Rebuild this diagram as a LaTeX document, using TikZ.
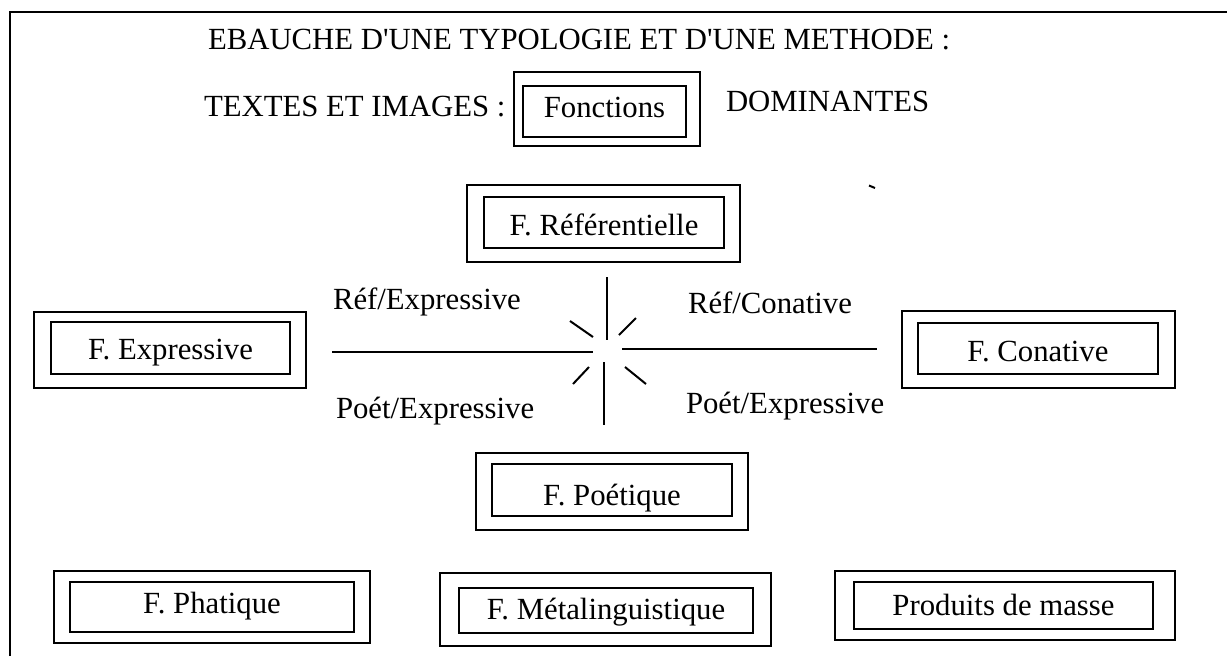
\documentclass[tikz,border=0pt]{standalone}
\usepackage{fontspec}
\setmainfont{Liberation Serif}
\begin{document}
\begin{tikzpicture}
      [x=0.4pt,y=-0.4pt,line width=0.8pt,
       every node/.style={font=\fontsize{12.3}{14}\selectfont,inner sep=0pt},
       fct/.style n args={3}{draw,minimum width=#1*0.4pt,minimum height=#2*0.4pt,
         text height=#3*0.8pt,text depth=0pt},
       lbl/.style={anchor=base west}]
      \useasboundingbox (0,0) rectangle (1227,656);
      \draw (9.5,656) -- (9.5,11.5) -- (1227,11.5);

      \node [lbl] (titre) at (207,49.5)
        {EBAUCHE D\textquotesingle UNE TYPOLOGIE ET D\textquotesingle UNE METHODE :};
      \node [lbl] (textes) at (203,116.5) {TEXTES ET IMAGES :};
      \node [lbl] (domin) at (725,111.5) {DOMINANTES};

      \node [fct={163}{51}{5.5}] (fonct) at (604.5,111.5) {Fonctions};
      \node [fct={240}{51}{12.5}] (ref) at (604,222.5) {F. Référentielle};
      \node [fct={239}{52}{11}] (expr) at (170.5,348) {F. Expressive};
      \node [fct={240}{51}{12.5}] (conat) at (1038,348.5) {F. Conative};
      \node [fct={240}{52}{15}] (poet) at (612,490) {F. Poétique};
      \node [fct={284}{50}{6}] (phat) at (212,607) {F. Phatique};
      \node [fct={294}{45}{8.5}] (meta) at (606,610.5) {F. Métalinguistique};
      \node [fct={299}{47}{9.5}] (prod) at (1003.5,605.5) {Produits de masse};

      \foreach \n/\l/\t/\r/\b in {fonct/8/13/13/8, ref/16/11/15/13, expr/16/9/15/13,
        conat/15/11/16/13, poet/15/10/15/13, phat/15/10/15/10, meta/18/14/17/12,
        prod/18/10/21/10}
      \draw ([shift={(-\l,-\t)}]\n.north west) rectangle ([shift={(\r,\b)}]\n.south east);

      \node [lbl] (refexpr) at (332,309.5) {Réf/Expressive};
      \node [lbl] (poetexpr) at (335,418) {Poét/Expressive};
      \node [lbl] (refconat) at (687,313) {Réf/Conative};
      \node [lbl] (poetconat) at (685,413) {Poét/Expressive};

      % croix centrale
      \draw (332,352) -- (593,352);
      \draw (622,349) -- (877,349);
      \draw (607,277) -- (607,340);
      \draw (604,362) -- (604,425);
      \foreach \from/\to in {{(570,321)}/{(593,337)}, {(636,318)}/{(619,335)},
        {(573,384)}/{(589,367)}, {(646,384)}/{(625,367)}}
      \draw \from -- \to;

      \draw (869,185.5) -- (875,188);
    \end{tikzpicture}
\end{document}
